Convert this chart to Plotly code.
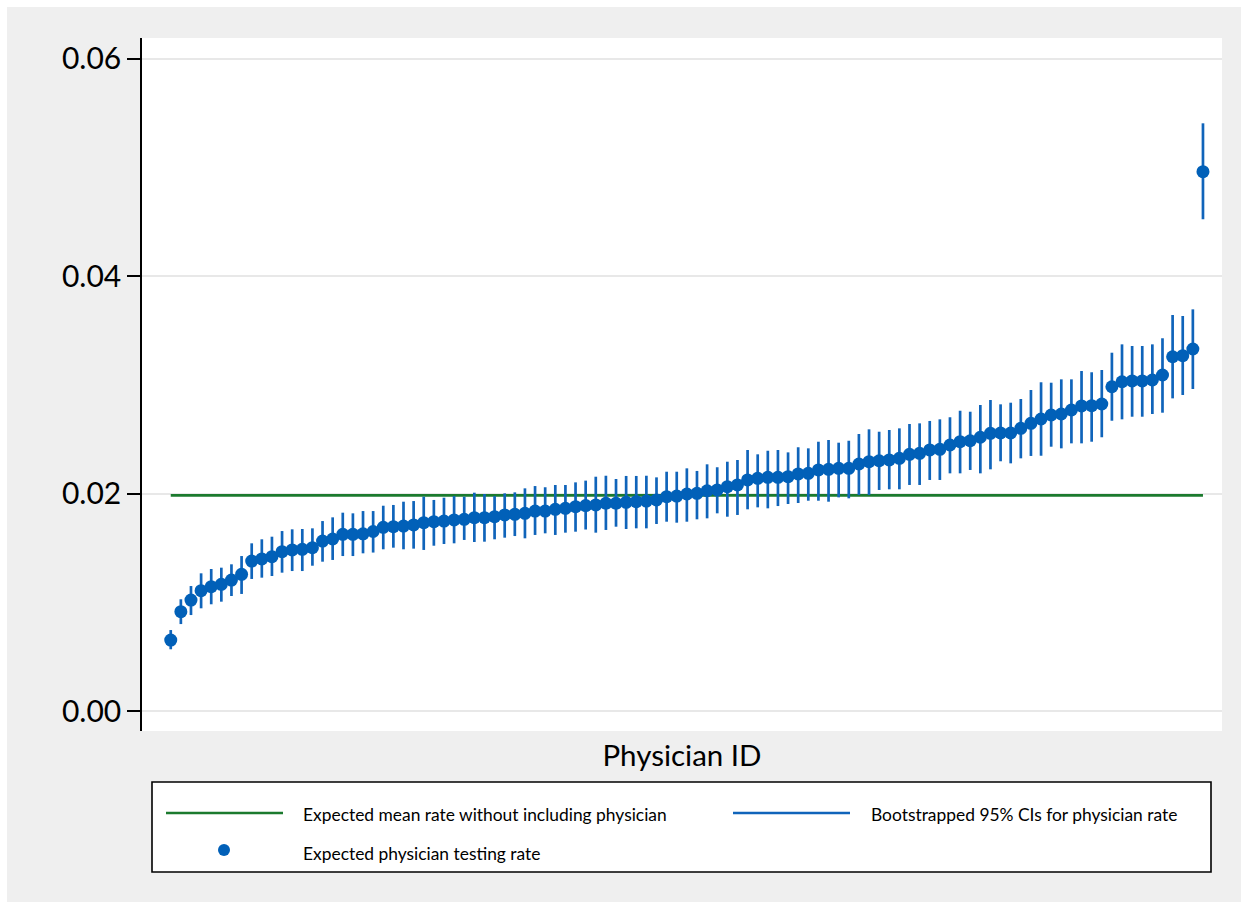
import plotly.graph_objects as go

# Physicians ranked by expected testing rate
physician_rank = list(range(1, 104))

testing_rate = [
    0.00653, 0.00914, 0.01021, 0.01107, 0.01144, 0.01166, 0.01205, 0.01258, 0.01380, 0.01399,
    0.01420, 0.01466, 0.01482, 0.01488, 0.01503, 0.01564, 0.01583, 0.01626, 0.01626, 0.01630,
    0.01652, 0.01690, 0.01696, 0.01702, 0.01712, 0.01733, 0.01742, 0.01748, 0.01758, 0.01764,
    0.01779, 0.01779, 0.01788, 0.01804, 0.01810, 0.01819, 0.01840, 0.01840, 0.01856, 0.01865,
    0.01880, 0.01890, 0.01896, 0.01911, 0.01911, 0.01920, 0.01926, 0.01932, 0.01942, 0.01972,
    0.01978, 0.01997, 0.02003, 0.02027, 0.02034, 0.02064, 0.02080, 0.02126, 0.02141, 0.02150,
    0.02150, 0.02156, 0.02182, 0.02187, 0.02218, 0.02224, 0.02233, 0.02233, 0.02273, 0.02294,
    0.02303, 0.02310, 0.02325, 0.02362, 0.02371, 0.02402, 0.02408, 0.02448, 0.02478, 0.02487,
    0.02519, 0.02555, 0.02558, 0.02558, 0.02601, 0.02647, 0.02687, 0.02724, 0.02733, 0.02770,
    0.02807, 0.02810, 0.02825, 0.02984, 0.03030, 0.03037, 0.03037, 0.03046, 0.03092, 0.03260,
    0.03270, 0.03331, 0.04963,
]

ci_lower = [
    0.00568, 0.00800, 0.00883, 0.00945, 0.00982, 0.01006, 0.01058, 0.01077, 0.01215, 0.01227,
    0.01242, 0.01273, 0.01288, 0.01288, 0.01337, 0.01374, 0.01390, 0.01426, 0.01426, 0.01451,
    0.01458, 0.01488, 0.01503, 0.01488, 0.01494, 0.01482, 0.01521, 0.01537, 0.01543, 0.01574,
    0.01555, 0.01558, 0.01580, 0.01595, 0.01610, 0.01589, 0.01620, 0.01635, 0.01620, 0.01641,
    0.01650, 0.01670, 0.01641, 0.01666, 0.01696, 0.01675, 0.01681, 0.01681, 0.01721, 0.01742,
    0.01733, 0.01742, 0.01764, 0.01773, 0.01819, 0.01788, 0.01804, 0.01856, 0.01874, 0.01865,
    0.01886, 0.01905, 0.01914, 0.01935, 0.01935, 0.01926, 0.01966, 0.01957, 0.01988, 0.01988,
    0.02034, 0.02040, 0.02040, 0.02080, 0.02080, 0.02126, 0.02126, 0.02187, 0.02187, 0.02218,
    0.02187, 0.02224, 0.02298, 0.02279, 0.02325, 0.02347, 0.02349, 0.02432, 0.02417, 0.02463,
    0.02463, 0.02478, 0.02519, 0.02671, 0.02684, 0.02708, 0.02708, 0.02733, 0.02745, 0.02877,
    0.02908, 0.02963, 0.04525,
]

ci_upper = [
    0.00745, 0.01028, 0.01150, 0.01267, 0.01307, 0.01319, 0.01350, 0.01426, 0.01543, 0.01580,
    0.01604, 0.01656, 0.01672, 0.01675, 0.01681, 0.01748, 0.01782, 0.01825, 0.01819, 0.01840,
    0.01840, 0.01889, 0.01896, 0.01926, 0.01932, 0.01972, 0.01942, 0.01963, 0.01978, 0.01972,
    0.02009, 0.01997, 0.01978, 0.02003, 0.02012, 0.02049, 0.02070, 0.02059, 0.02080, 0.02080,
    0.02104, 0.02120, 0.02156, 0.02165, 0.02135, 0.02163, 0.02163, 0.02165, 0.02150, 0.02202,
    0.02202, 0.02233, 0.02209, 0.02270, 0.02243, 0.02294, 0.02310, 0.02402, 0.02362, 0.02395,
    0.02402, 0.02380, 0.02427, 0.02417, 0.02478, 0.02494, 0.02469, 0.02487, 0.02549, 0.02592,
    0.02570, 0.02586, 0.02601, 0.02641, 0.02647, 0.02669, 0.02684, 0.02703, 0.02763, 0.02754,
    0.02816, 0.02862, 0.02822, 0.02837, 0.02871, 0.02954, 0.03025, 0.03021, 0.03052, 0.03052,
    0.03129, 0.03117, 0.03138, 0.03297, 0.03374, 0.03359, 0.03359, 0.03374, 0.03430, 0.03644,
    0.03635, 0.03696, 0.05408,
]

mean_rate_excluding = 0.01984

y_tick_values = [0.00, 0.02, 0.04, 0.06]
y_tick_labels = ["0.00", "0.02", "0.04", "0.06"]

legend_labels = [
    "Expected mean rate without including physician",
    "Bootstrapped 95% CIs for physician rate",
    "Expected physician testing rate",
]

GREEN = "#1b7a2e"
BLUE_DOT = "#0160b8"
BLUE_LINE = "#1064ba"
FONT = "Lato"

# Figure geometry (pixels)
W, H = 1248, 909
PL, PR, PT, PB = 142, 1222, 38, 731


def px_x(p):
    return (p - PL) / (PR - PL)


def px_y(p):
    return (PB - p) / (PB - PT)


fig = go.Figure()

# Mean rate reference line across all physicians
fig.add_trace(go.Scatter(
    x=[physician_rank[0], physician_rank[-1]],
    y=[mean_rate_excluding, mean_rate_excluding],
    mode="lines",
    line=dict(color=GREEN, width=2.6),
    name=legend_labels[0],
    hoverinfo="skip",
))

# Bootstrapped CIs as vertical spikes
ci_x, ci_y = [], []
for r, lo, hi in zip(physician_rank, ci_lower, ci_upper):
    ci_x += [r, r, None]
    ci_y += [lo, hi, None]
fig.add_trace(go.Scatter(
    x=ci_x, y=ci_y, mode="lines",
    line=dict(color=BLUE_LINE, width=2.7),
    name=legend_labels[1],
    hoverinfo="skip",
))

# Expected testing rate per physician
fig.add_trace(go.Scatter(
    x=physician_rank, y=testing_rate, mode="markers",
    marker=dict(color=BLUE_DOT, size=13, line=dict(width=0)),
    name=legend_labels[2],
))

shapes = [
    # grey outer panel
    dict(type="rect", xref="paper", yref="paper",
         x0=px_x(7), x1=px_x(1241), y0=px_y(902), y1=px_y(7),
         fillcolor="#efefef", line=dict(width=0), layer="below"),
    # white plot region
    dict(type="rect", xref="paper", yref="paper",
         x0=0, x1=1, y0=0, y1=1,
         fillcolor="white", line=dict(width=0), layer="below"),
    # legend frame
    dict(type="rect", xref="paper", yref="paper",
         x0=px_x(152), x1=px_x(1211), y0=px_y(872), y1=px_y(782),
         fillcolor="white", line=dict(color="black", width=1.6), layer="above"),
    # legend keys
    dict(type="line", xref="paper", yref="paper",
         x0=px_x(166), x1=px_x(283), y0=px_y(813), y1=px_y(813),
         line=dict(color=GREEN, width=2.6)),
    dict(type="line", xref="paper", yref="paper",
         x0=px_x(733), x1=px_x(850), y0=px_y(813), y1=px_y(813),
         line=dict(color=BLUE_LINE, width=2.6)),
    dict(type="circle", xref="paper", yref="paper",
         x0=px_x(218), x1=px_x(230), y0=px_y(856), y1=px_y(844),
         fillcolor=BLUE_DOT, line=dict(width=0)),
]

annotations = [
    dict(text=legend_labels[0], x=px_x(301), y=px_y(815)),
    dict(text=legend_labels[1], x=px_x(869), y=px_y(815)),
    dict(text=legend_labels[2], x=px_x(301), y=px_y(853)),
]
for a in annotations:
    a.update(xref="paper", yref="paper", xanchor="left", yanchor="middle",
             showarrow=False, font=dict(family=FONT, size=17.4, color="black"))

fig.update_layout(
    width=W, height=H,
    margin=dict(l=PL, r=W - PR, t=PT, b=H - PB, pad=0),
    paper_bgcolor="white",
    plot_bgcolor="white",
    showlegend=False,
    font=dict(family=FONT, color="black"),
    shapes=shapes,
    annotations=annotations,
    xaxis=dict(
        range=[-1.84, 104.88],
        showgrid=False, zeroline=False, showline=False,
        showticklabels=False, ticks="",
        title=dict(text="Physician ID", font=dict(family=FONT, size=29.5, color="black"),
                   standoff=14),
    ),
    yaxis=dict(
        range=[-0.00184, 0.06193],
        tickvals=y_tick_values, ticktext=y_tick_labels,
        ticks="outside", ticklen=13, tickwidth=1.5, tickcolor="black",
        tickfont=dict(family=FONT, size=30, color="black"),
        showline=True, linecolor="black", linewidth=1.6,
        showgrid=True, gridcolor="#e8e8e8", gridwidth=2,
        zeroline=False,
    ),
)

fig.write_html("out.html")
